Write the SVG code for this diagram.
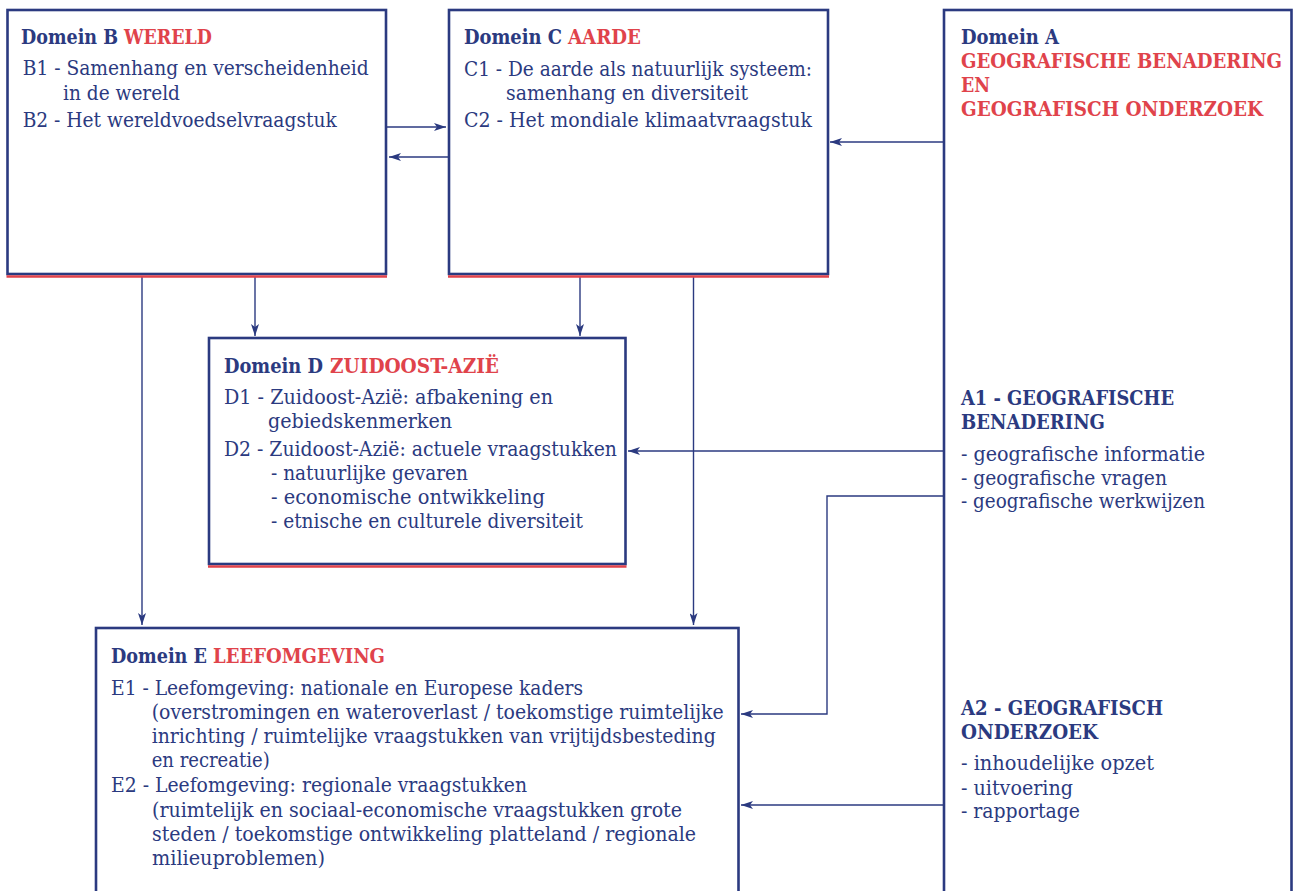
<svg xmlns="http://www.w3.org/2000/svg" width="1293" height="891" viewBox="0 0 1293 891">
<style>
text{font-family:'DejaVu Serif Condensed','DejaVu Serif',serif;font-stretch:condensed;fill:#2b3a80;font-size:21px}
.t{font-weight:bold;font-size:19.5px}
.r{fill:#e0434b}
.box{fill:#fff;stroke:#2b3a80;stroke-width:2.6}
.red{stroke:#e0434b;stroke-width:2.6;fill:none}
.c{stroke:#2b3a80;stroke-width:1.4;fill:none;marker-end:url(#ah)}
</style>
<defs>
<marker id="ah" viewBox="0 0 12 8" refX="12" refY="4" markerWidth="12" markerHeight="8" markerUnits="userSpaceOnUse" orient="auto">
<path d="M0,0 L12,4 L0,8 L3,4 Z" fill="#2b3a80"/>
</marker>
</defs>
<rect width="1293" height="891" fill="#fff"/>
<g id="connectors">
<line class="c" x1="387" y1="127" x2="446" y2="127"/>
<line class="c" x1="449" y1="157" x2="389" y2="157"/>
<line class="c" x1="944" y1="142" x2="830" y2="142"/>
<line class="c" x1="142" y1="276" x2="142" y2="625"/>
<line class="c" x1="255" y1="276" x2="255" y2="336"/>
<line class="c" x1="580" y1="276" x2="580" y2="336"/>
<line class="c" x1="693.5" y1="276" x2="693.5" y2="625"/>
<line class="c" x1="944" y1="451" x2="628" y2="451"/>
<polyline class="c" points="944,496 827,496 827,714 741,714"/>
<line class="c" x1="944" y1="805" x2="741" y2="805"/>
</g>
<g id="nodeB">
<rect class="box" x="7.5" y="10" width="378.5" height="264"/>
<line class="red" x1="6.5" y1="276.5" x2="387" y2="276.5"/>
<text class="t" x="21" y="44" textLength="97" lengthAdjust="spacingAndGlyphs">Domein B</text>
<text class="t r" x="124" y="44" textLength="88" lengthAdjust="spacingAndGlyphs">WERELD</text>
<text x="22.7" y="75" textLength="346" lengthAdjust="spacingAndGlyphs">B1 - Samenhang en verscheidenheid</text>
<text x="63" y="100" textLength="117" lengthAdjust="spacingAndGlyphs">in de wereld</text>
<text x="22.7" y="127" textLength="314" lengthAdjust="spacingAndGlyphs">B2 - Het wereldvoedselvraagstuk</text>
</g>
<g id="nodeC">
<rect class="box" x="449" y="10" width="379" height="264"/>
<line class="red" x1="448" y1="276.5" x2="829" y2="276.5"/>
<text class="t" x="464" y="44" textLength="98" lengthAdjust="spacingAndGlyphs">Domein C</text>
<text class="t r" x="568" y="44" textLength="73" lengthAdjust="spacingAndGlyphs">AARDE</text>
<text x="464" y="76" textLength="348" lengthAdjust="spacingAndGlyphs">C1 - De aarde als natuurlijk systeem:</text>
<text x="506" y="100" textLength="242" lengthAdjust="spacingAndGlyphs">samenhang en diversiteit</text>
<text x="464" y="127" textLength="348" lengthAdjust="spacingAndGlyphs">C2 - Het mondiale klimaatvraagstuk</text>
</g>
<g id="nodeA">
<rect class="box" x="944" y="10" width="347.5" height="900"/>
<text class="t" x="961" y="44" textLength="98" lengthAdjust="spacingAndGlyphs">Domein A</text>
<text class="t r" x="961" y="68" textLength="321" lengthAdjust="spacingAndGlyphs">GEOGRAFISCHE BENADERING</text>
<text class="t r" x="961" y="92" textLength="29" lengthAdjust="spacingAndGlyphs">EN</text>
<text class="t r" x="961" y="116" textLength="302" lengthAdjust="spacingAndGlyphs">GEOGRAFISCH ONDERZOEK</text>
<text class="t" x="961" y="405" textLength="213" lengthAdjust="spacingAndGlyphs">A1 - GEOGRAFISCHE</text>
<text class="t" x="961" y="429" textLength="144" lengthAdjust="spacingAndGlyphs">BENADERING</text>
<text x="961" y="461" textLength="244" lengthAdjust="spacingAndGlyphs">- geografische informatie</text>
<text x="961" y="485" textLength="206" lengthAdjust="spacingAndGlyphs">- geografische vragen</text>
<text x="961" y="508" textLength="244" lengthAdjust="spacingAndGlyphs">- geografische werkwijzen</text>
<text class="t" x="961" y="715" textLength="202" lengthAdjust="spacingAndGlyphs">A2 - GEOGRAFISCH</text>
<text class="t" x="961" y="739" textLength="137" lengthAdjust="spacingAndGlyphs">ONDERZOEK</text>
<text x="961" y="770" textLength="193" lengthAdjust="spacingAndGlyphs">- inhoudelijke opzet</text>
<text x="961" y="795" textLength="112" lengthAdjust="spacingAndGlyphs">- uitvoering</text>
<text x="961" y="818" textLength="119" lengthAdjust="spacingAndGlyphs">- rapportage</text>
</g>
<g id="nodeD">
<rect class="box" x="209" y="338" width="416.5" height="226"/>
<line class="red" x1="208" y1="566.5" x2="626.5" y2="566.5"/>
<text class="t" x="224" y="373" textLength="99" lengthAdjust="spacingAndGlyphs">Domein D</text>
<text class="t r" x="330" y="373" textLength="169" lengthAdjust="spacingAndGlyphs">ZUIDOOST-AZIË</text>
<text x="224" y="404" textLength="329" lengthAdjust="spacingAndGlyphs">D1 - Zuidoost-Azië: afbakening en</text>
<text x="268" y="428" textLength="184" lengthAdjust="spacingAndGlyphs">gebiedskenmerken</text>
<text x="224" y="456" textLength="393" lengthAdjust="spacingAndGlyphs">D2 - Zuidoost-Azië: actuele vraagstukken</text>
<text x="271" y="480" textLength="197" lengthAdjust="spacingAndGlyphs">- natuurlijke gevaren</text>
<text x="271" y="504" textLength="274" lengthAdjust="spacingAndGlyphs">- economische ontwikkeling</text>
<text x="271" y="528" textLength="312" lengthAdjust="spacingAndGlyphs">- etnische en culturele diversiteit</text>
</g>
<g id="nodeE">
<rect class="box" x="96" y="628" width="642.5" height="300"/>
<text class="t" x="111" y="663" textLength="96" lengthAdjust="spacingAndGlyphs">Domein E</text>
<text class="t r" x="213" y="663" textLength="172" lengthAdjust="spacingAndGlyphs">LEEFOMGEVING</text>
<text x="111" y="695" textLength="472" lengthAdjust="spacingAndGlyphs">E1 - Leefomgeving: nationale en Europese kaders</text>
<text x="151.7" y="719" textLength="572" lengthAdjust="spacingAndGlyphs">(overstromingen en wateroverlast / toekomstige ruimtelijke</text>
<text x="151.7" y="743" textLength="564" lengthAdjust="spacingAndGlyphs">inrichting / ruimtelijke vraagstukken van vrijtijdsbesteding</text>
<text x="151.7" y="767" textLength="118" lengthAdjust="spacingAndGlyphs">en recreatie)</text>
<text x="111" y="792" textLength="416" lengthAdjust="spacingAndGlyphs">E2 - Leefomgeving: regionale vraagstukken</text>
<text x="152" y="817" textLength="530" lengthAdjust="spacingAndGlyphs">(ruimtelijk en sociaal-economische vraagstukken grote</text>
<text x="152" y="841" textLength="544" lengthAdjust="spacingAndGlyphs">steden / toekomstige ontwikkeling platteland / regionale</text>
<text x="152" y="865" textLength="173" lengthAdjust="spacingAndGlyphs">milieuproblemen)</text>
</g>
</svg>
